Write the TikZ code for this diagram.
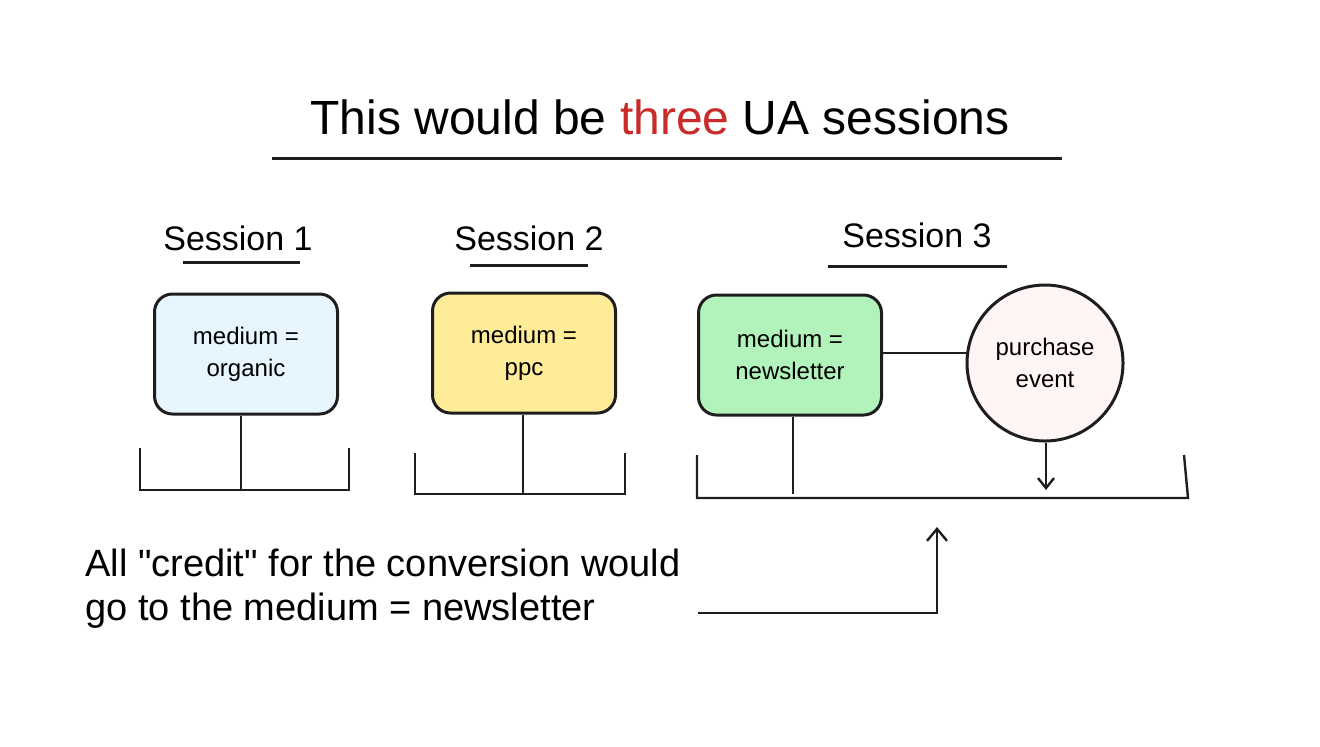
\documentclass[tikz,border=0pt]{standalone}
\usepackage{fontspec}
\setmainfont{Liberation Sans}[Ligatures=TeXOff]
\usetikzlibrary{arrows.meta}
\definecolor{redword}{HTML}{C92A2A}
\definecolor{bluefill}{HTML}{E7F5FF}
\definecolor{yellowfill}{HTML}{FFEC99}
\definecolor{greenfill}{HTML}{B2F2BB}
\definecolor{pinkfill}{HTML}{FFF5F5}
\definecolor{ink}{HTML}{1E1E1E}
\tikzset{
  mediumbox/.style={draw=ink, line width=1.5pt, rounded corners=9pt, minimum width=91.5pt, minimum height=60pt, align=center, font=\fontsize{12}{16}\selectfont},
  sessionlabel/.style={font=\fontsize{17}{18}\selectfont},
  rule/.style={draw=ink, line width=1.5pt},
  thin/.style={draw=ink, line width=1.2pt}
}
\begin{document}
\begin{tikzpicture}[x=0.5pt,y=-0.5pt]
\useasboundingbox (0,0) rectangle (1320,746);
% title
\node (title) at (660,117) {\fontsize{24}{28}\selectfont This would be \textcolor{redword}{three} UA sessions};
\draw[rule] (272,158) -- (1062,158);
% session labels
\node[sessionlabel] (s1) at (238,238) {Session 1};
\node[sessionlabel] (s2) at (529,238) {Session 2};
\node[sessionlabel] (s3) at (917,235) {Session 3};
\draw[rule] (183,262) -- (300,262);
\draw[rule] (470,265) -- (588,265);
\draw[rule] (828,266) -- (1007,266);
% boxes
\node[mediumbox, fill=bluefill] (m1) at (246,354) {medium =\\organic};
\node[mediumbox, fill=yellowfill] (m2) at (524,353) {medium =\\ppc};
\node[mediumbox, fill=greenfill] (m3) at (790,355) {medium =\\newsletter};
\node[circle, draw=ink, line width=1.5pt, fill=pinkfill, minimum size=78pt, align=center, font=\fontsize{12}{16}\selectfont] (ev) at (1045,363) {purchase\\event};
\draw[thin] (m3.east |- 0,353) -- (ev.west |- 0,353);
% brackets
\coordinate (b1) at (241,490);
\coordinate (b2) at (523,494);
\coordinate (b3) at (793,494);
\coordinate (b4) at (1046,490);
\draw[thin] (m1.south -| b1) -- (b1);
\draw[thin] (140,448) -- (140,490) -- (349,490) -- (349,448);
\draw[thin] (m2.south -| b2) -- (b2);
\draw[thin] (415,453) -- (415,494) -- (625,494) -- (625,453);
\draw[thin] (m3.south -| b3) -- (b3);
\draw[thin] (697,455) -- (697,498) -- (1188,498) -- (1184,455);
\draw[thin, -{Straight Barb[length=5pt,width=8pt]}] (ev.south -| b4) -- (b4);
% note
\node[anchor=west, align=left, font=\fontsize{19}{22}\selectfont, inner sep=0pt] (note) at (85,589) {All "credit" for the conversion would\\go to the medium = newsletter};
\coordinate (a1) at (698,613);
\coordinate (a2) at (937,527);
\draw[thin, -{Straight Barb[length=6pt,width=10pt]}] (a1) -| (a2);
\end{tikzpicture}
\end{document}
